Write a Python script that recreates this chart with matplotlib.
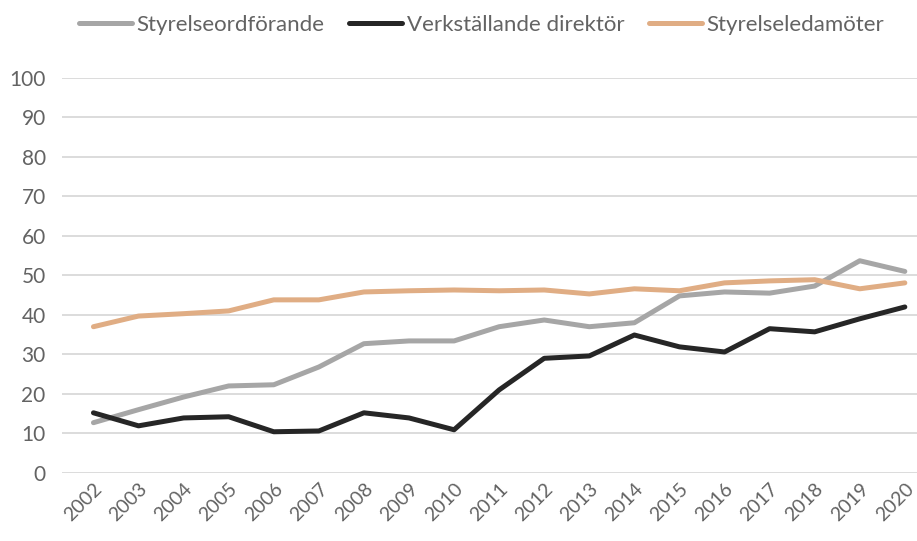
import numpy as np
import matplotlib.pyplot as plt

plt.rcParams['font.family'] = ['Lato', 'DejaVu Sans']

years = list(range(2002, 2021))
ordforande = [12.7, 16.0, 19.2, 22.0, 22.3, 26.8, 32.7, 33.4, 33.4, 37.0,
              38.7, 37.0, 38.0, 44.8, 45.8, 45.5, 47.3, 53.7, 51.0]
vd = [15.2, 11.9, 13.9, 14.2, 10.4, 10.6, 15.2, 13.9, 10.9, 21.0,
      29.0, 29.6, 34.9, 31.9, 30.6, 36.5, 35.7, 39.0, 42.0]
ledamoter = [37.0, 39.7, 40.3, 41.0, 43.8, 43.8, 45.8, 46.1, 46.3, 46.1,
             46.3, 45.3, 46.6, 46.1, 48.1, 48.6, 48.9, 46.6, 48.1]

txt = '#636363'

fig = plt.figure(figsize=(9.17, 5.41), dpi=100)
ax = fig.add_axes([0.068, 0.126, 0.932, 0.730])

x = np.arange(len(years))
ax.plot(x, ordforande, color='#A6A6A6', lw=3.6, label='Styrelseordförande', solid_capstyle='round')
ax.plot(x, vd, color='#262626', lw=3.6, label='Verkställande direktör', solid_capstyle='round')
ax.plot(x, ledamoter, color='#E0AD84', lw=3.6, label='Styrelseledamöter', solid_capstyle='round')

ax.set_ylim(0, 100)
ax.set_yticks(range(0, 101, 10))
ax.set_xlim(-0.69, len(years) - 1 + 0.27)
ax.set_xticks(x)
ax.set_xticklabels([str(y) for y in years], rotation=45, ha='right', rotation_mode='anchor')

ax.grid(axis='y', color='#D9D9D9', lw=1.3)
ax.set_axisbelow(True)
for s in ax.spines.values():
    s.set_visible(False)
ax.tick_params(length=0, labelcolor=txt, labelsize=15)
ax.tick_params(axis='y', pad=12)
ax.tick_params(axis='x', pad=5, labelsize=14)

leg = fig.legend(loc='upper center', bbox_to_anchor=(0.525, 1.01), ncol=3, frameon=False,
                 fontsize=16, handlelength=2.4, handletextpad=0.2, columnspacing=1.1)
for t in leg.get_texts():
    t.set_color(txt)

fig.savefig('out.png', dpi=100)
